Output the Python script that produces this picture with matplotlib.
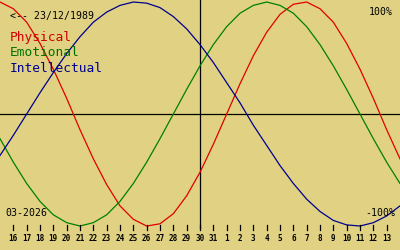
import numpy as np
import matplotlib
matplotlib.use('Agg')
from matplotlib import pyplot as plt
import matplotlib.transforms as mtransforms

# day offsets from the centre date (30/03/2026), one value per day, in percent
offsets = list(range(-15, 16))
physical = [100, 94, 82, 63, 40, 14, -14, -40, -63, -82, -94, -100, -98, -89, -73,
            -52, -27, 0, 27, 52, 73, 89, 98, 100, 94, 82, 63, 40, 14, -14, -40]
emotional = [-22, -43, -62, -78, -90, -97, -100, -97, -90, -78, -62, -43, -22, 0, 22,
             43, 62, 78, 90, 97, 100, 97, 90, 78, 62, 43, 22, 0, -22, -43, -62]
intellectual = [-37, -19, 0, 19, 37, 54, 69, 82, 91, 97, 100, 99, 95, 87, 76,
                62, 46, 28, 10, -10, -28, -46, -62, -76, -87, -95, -99, -100, -97, -91, -82]

day_labels = [16, 17, 18, 19, 20, 21, 22, 23, 24, 25, 26, 27, 28, 29, 30, 31,
              1, 2, 3, 4, 5, 6, 7, 8, 9, 10, 11, 12, 13]
tick_offsets = list(range(-14, 15))

birth = '<-- 23/12/1989'
month = '03-2026'

BG = '#e0d282'
mono = 'DejaVu Sans Mono'

fig = plt.figure(figsize=(4, 2.5), dpi=100, facecolor=BG)
ax = fig.add_axes([0, 0, 1, 1])
ax.set_facecolor(BG)
ax.set_xlim(-15, 15)
ax.set_ylim(-121.4, 101.8)
ax.axis('off')

# axes cross
ax.axhline(0, color='black', lw=0.9)
ax.axvline(0, ymin=0.088, ymax=1, color='black', lw=0.9)

# curves
ax.plot(offsets, physical, color='#e00000', lw=0.9)
ax.plot(offsets, emotional, color='#008000', lw=0.9)
ax.plot(offsets, intellectual, color='#000090', lw=0.9)

# day ticks along the bottom
trans = mtransforms.blended_transform_factory(ax.transData, ax.transAxes)
for off, lab in zip(tick_offsets, day_labels):
    ax.plot([off, off], [0.08, 0.10], color='black', lw=0.9, transform=trans)
    ax.text(off, 0.046, str(lab), transform=trans, ha='center', va='center',
            fontsize=5.5, fontweight='bold', family=mono, color='black')

# labels
ax.text(10 / 400, 1 - 16 / 250, birth, transform=ax.transAxes, ha='left', va='center',
        fontsize=7.1, family=mono, color='black')
ax.text(10 / 400, 1 - 37.5 / 250, 'Physical', transform=ax.transAxes, ha='left', va='center',
        fontsize=9.3, family=mono, color='#d00000')
ax.text(10 / 400, 1 - 52.5 / 250, 'Emotional', transform=ax.transAxes, ha='left', va='center',
        fontsize=9.3, family=mono, color='#007000')
ax.text(10 / 400, 1 - 68 / 250, 'Intellectual', transform=ax.transAxes, ha='left', va='center',
        fontsize=9.3, family=mono, color='#000090')
ax.text(393 / 400, 1 - 12 / 250, '100%', transform=ax.transAxes, ha='right', va='center',
        fontsize=7.1, family=mono, color='black')
ax.text(395 / 400, 1 - 213 / 250, '-100%', transform=ax.transAxes, ha='right', va='center',
        fontsize=7.1, family=mono, color='black')
ax.text(5 / 400, 1 - 212.5 / 250, month, transform=ax.transAxes, ha='left', va='center',
        fontsize=7.1, family=mono, color='black')

fig.savefig('out.png', dpi=100, facecolor=BG)
